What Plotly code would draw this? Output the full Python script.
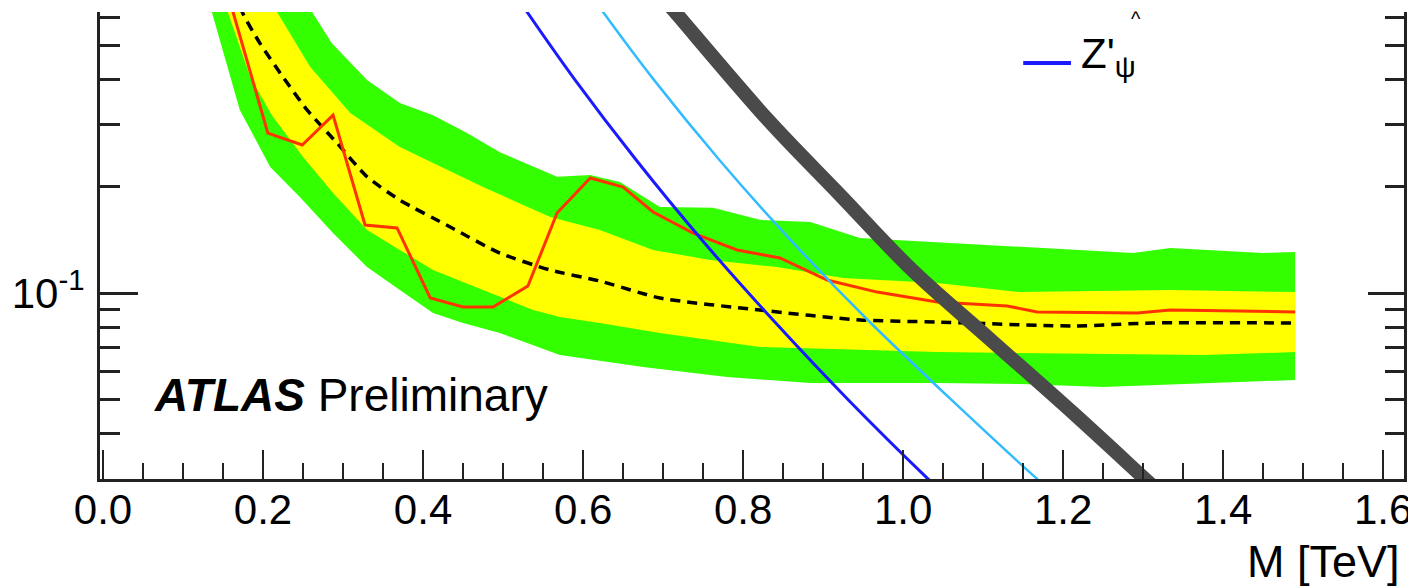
import plotly.graph_objects as go

# ---------------- data ----------------
# +2 sigma band edge
m_p2 = [0.240, 0.261, 0.286, 0.330, 0.371, 0.4125, 0.455, 0.496, 0.5675, 0.609, 0.646, 0.696,
        0.7625, 0.821, 0.884, 0.946, 1.0425, 1.146, 1.2875, 1.334, 1.45, 1.49]
lim_p2 = [0.741, 0.622, 0.508, 0.400, 0.344, 0.318, 0.283, 0.250, 0.213, 0.2155, 0.206, 0.175,
          0.174, 0.161, 0.1587, 0.143, 0.1393, 0.1349, 0.1297, 0.134, 0.1297, 0.1306]
# -2 sigma band edge
m_m2 = [0.1275, 0.136, 0.171, 0.209, 0.246, 0.2875, 0.330, 0.371, 0.4125, 0.450, 0.496, 0.571,
        0.675, 0.780, 0.884, 1.0425, 1.146, 1.250, 1.49]
lim_m2 = [0.741, 0.622, 0.329, 0.227, 0.1867, 0.1477, 0.1184, 0.1020, 0.0878, 0.0823, 0.0771, 0.0668,
          0.0618, 0.0579, 0.0557, 0.0557, 0.0553, 0.0543, 0.0568]
# +1 sigma band edge
m_p1 = [0.199, 0.2175, 0.259, 0.309, 0.371, 0.4125, 0.475, 0.559, 0.621, 0.6875, 0.759, 0.8425,
        0.925, 1.0425, 1.146, 1.334, 1.49]
lim_p1 = [0.741, 0.622, 0.435, 0.3225, 0.2585, 0.233, 0.1992, 0.164, 0.1507, 0.1323, 0.124, 0.1184,
          0.1103, 0.1067, 0.1006, 0.1020, 0.1006]
# -1 sigma band edge
m_m1 = [0.146, 0.156, 0.184, 0.211, 0.250, 0.2875, 0.330, 0.371, 0.4125, 0.475, 0.5375, 0.571,
        0.621, 0.696, 0.821, 1.0425, 1.375, 1.49]
lim_m1 = [0.741, 0.622, 0.4075, 0.318, 0.2422, 0.1916, 0.1507, 0.1323, 0.1161, 0.102, 0.0895, 0.0855,
          0.0823, 0.0771, 0.0704, 0.0681, 0.0668, 0.0681]
# expected limit
m_exp = [0.166, 0.174, 0.196, 0.225, 0.255, 0.2925, 0.330, 0.371, 0.434, 0.496, 0.559, 0.621,
         0.696, 0.821, 0.946, 1.0425, 1.2125, 1.3125, 1.49]
lim_exp = [0.718, 0.622, 0.508, 0.4075, 0.329, 0.2652, 0.213, 0.183, 0.1536, 0.1297, 0.1161, 0.1081,
           0.0968, 0.0895, 0.0839, 0.0828, 0.0807, 0.0823, 0.0823]
# observed limit
m_obs = [0.154, 0.1625, 0.206, 0.249, 0.2875, 0.3275, 0.3675, 0.409, 0.450, 0.4875, 0.531, 0.5675,
         0.609, 0.650, 0.6875, 0.7375, 0.7925, 0.846, 0.905, 0.9675, 1.0425, 1.130, 1.1675, 1.2925,
         1.334, 1.49]
lim_obs = [0.741, 0.622, 0.283, 0.2619, 0.318, 0.1556, 0.1527, 0.0968, 0.0913, 0.0913, 0.1046, 0.1683,
           0.2113, 0.1992, 0.1694, 0.1477, 0.1323, 0.1256, 0.1088, 0.1006, 0.0943, 0.0919, 0.0884,
           0.0878, 0.0895, 0.0884]
# theory cross sections
m_psi = [0.5115, 0.530, 0.5899, 0.6664, 0.7486, 0.8374, 0.9319, 1.0314, 1.0524]
xs_psi = [0.7177, 0.622, 0.400, 0.2375, 0.1411, 0.0839, 0.0498, 0.0298, 0.0269]
m_chi = [0.6056, 0.625, 0.6886, 0.7704, 0.8594, 0.9558, 1.0608, 1.1679, 1.1913]
xs_chi = [0.7177, 0.622, 0.400, 0.2375, 0.1411, 0.0839, 0.0498, 0.0298, 0.0269]
m_ssm = [0.6966, 0.715, 0.8313, 0.9213, 1.0113, 1.1095, 1.2125, 1.3025, 1.324]
xs_ssm = [0.695, 0.622, 0.308, 0.1891, 0.1161, 0.0737, 0.0458, 0.0298, 0.0269]

x_ticks = [0.0, 0.2, 0.4, 0.6, 0.8, 1.0, 1.2, 1.4, 1.6]
y_minor = [0.04, 0.05, 0.06, 0.07, 0.08, 0.09, 0.2, 0.3, 0.4, 0.5, 0.6]

FONT = "Liberation Sans, Arial, Helvetica, sans-serif"
GREEN = "#33ff00"
YELLOW = "#ffff00"

fig = go.Figure()

def band(mu, lu, ml, ll, color):
    fig.add_trace(go.Scatter(
        x=mu + ml[::-1], y=lu + ll[::-1], fill="toself", fillcolor=color,
        mode="lines", line=dict(width=0, color=color),
        hoverinfo="skip", showlegend=False))

band(m_p2, lim_p2, m_m2, lim_m2, GREEN)
band(m_p1, lim_p1, m_m1, lim_m1, YELLOW)

fig.add_trace(go.Scatter(x=m_exp, y=lim_exp, mode="lines", showlegend=False,
                         line=dict(color="black", width=3.5, dash="10px,7px", shape="spline", smoothing=0.6)))
fig.add_trace(go.Scatter(x=m_obs, y=lim_obs, mode="lines", showlegend=False,
                         line=dict(color="#ff3300", width=3)))
fig.add_trace(go.Scatter(x=m_ssm, y=xs_ssm, mode="lines", showlegend=False,
                         line=dict(color="#4a4a4a", width=14, shape="spline", smoothing=1.0)))
fig.add_trace(go.Scatter(x=m_chi, y=xs_chi, mode="lines", showlegend=False,
                         line=dict(color="#33bbff", width=2.5, shape="spline", smoothing=0.6)))
fig.add_trace(go.Scatter(x=m_psi, y=xs_psi, mode="lines", showlegend=False, name="Z'ψ",
                         line=dict(color="#1a1aff", width=3, shape="spline", smoothing=0.6)))
# carrier for right-hand axis
fig.add_trace(go.Scatter(x=m_psi[:1], y=xs_psi[:1], yaxis="y2", mode="lines",
                         line=dict(width=0), hoverinfo="skip", showlegend=False))

yrange = [-1.5254, -0.2062]
axcol = "#222222"

# the page body adds an 8 px offset, so the figure is 8 px smaller and margins shifted
fig.update_layout(
    width=1408, height=580,
    margin=dict(l=92, r=12, t=4, b=109, autoexpand=False),
    paper_bgcolor="white", plot_bgcolor="white",
    font=dict(family=FONT, color="black"),
    xaxis=dict(
        range=[-0.00375, 1.626], tickvals=x_ticks, ticktext=[f"{v:.1f}" for v in x_ticks],
        ticks="inside", ticklen=29, tickwidth=2, tickcolor=axcol, automargin=False,
        showline=True, linewidth=3, linecolor=axcol, showgrid=False, zeroline=False,
        tickfont=dict(size=42, family=FONT), ticklabelstandoff=-8,
        minor=dict(dtick=0.05, tick0=0, ticks="inside", ticklen=16, tickwidth=2, tickcolor=axcol),
    ),
    yaxis=dict(
        type="log", range=yrange, tickvals=[0.1], ticktext=["10<sup>-1</sup>"],
        ticks="inside", ticklen=38, tickwidth=2.5, tickcolor=axcol, automargin=False,
        showline=True, linewidth=3, linecolor=axcol, showgrid=False, zeroline=False,
        tickfont=dict(size=42, family=FONT), ticklabelstandoff=4,
        minor=dict(tickmode="array", tickvals=y_minor, ticks="inside", ticklen=20,
                   tickwidth=2.5, tickcolor=axcol),
    ),
    yaxis2=dict(
        type="log", range=yrange, overlaying="y", side="right", tickvals=[0.1],
        showticklabels=False, ticks="inside", ticklen=36, tickwidth=2.5, tickcolor=axcol,
        showline=True, linewidth=3, linecolor=axcol, showgrid=False, zeroline=False,
        automargin=False,
        minor=dict(tickmode="array", tickvals=y_minor, ticks="inside", ticklen=19,
                   tickwidth=2.5, tickcolor=axcol),
    ),
)

# legend entry (Z'_psi) drawn manually
fig.add_shape(type="line", xref="paper", yref="paper", x0=0.708, x1=0.7446, y0=0.8908, y1=0.8908,
              line=dict(color="#1a1aff", width=4))
fig.add_annotation(text="Z'<sub>ψ</sub>", xref="paper", yref="paper", x=0.7505, y=0.905,
                   xanchor="left", yanchor="middle", showarrow=False,
                   font=dict(size=42, family=FONT, color="black"))
fig.add_annotation(text="^", xref="paper", yref="paper", x=0.7945, y=0.985,
                   xanchor="center", yanchor="middle", showarrow=False,
                   font=dict(size=20, family=FONT, color="black"))

fig.add_annotation(text="<b><i>ATLAS</i></b> Preliminary", xref="paper", yref="paper",
                   x=0.040, y=0.180, xanchor="left", yanchor="middle", showarrow=False,
                   font=dict(size=46, family=FONT, color="black"))
fig.add_annotation(text="M [TeV]", xref="paper", yref="paper", x=0.9985, y=-0.176,
                   xanchor="right", yanchor="middle", showarrow=False,
                   font=dict(size=45, family=FONT, color="black"))

fig.write_html("out.html")
